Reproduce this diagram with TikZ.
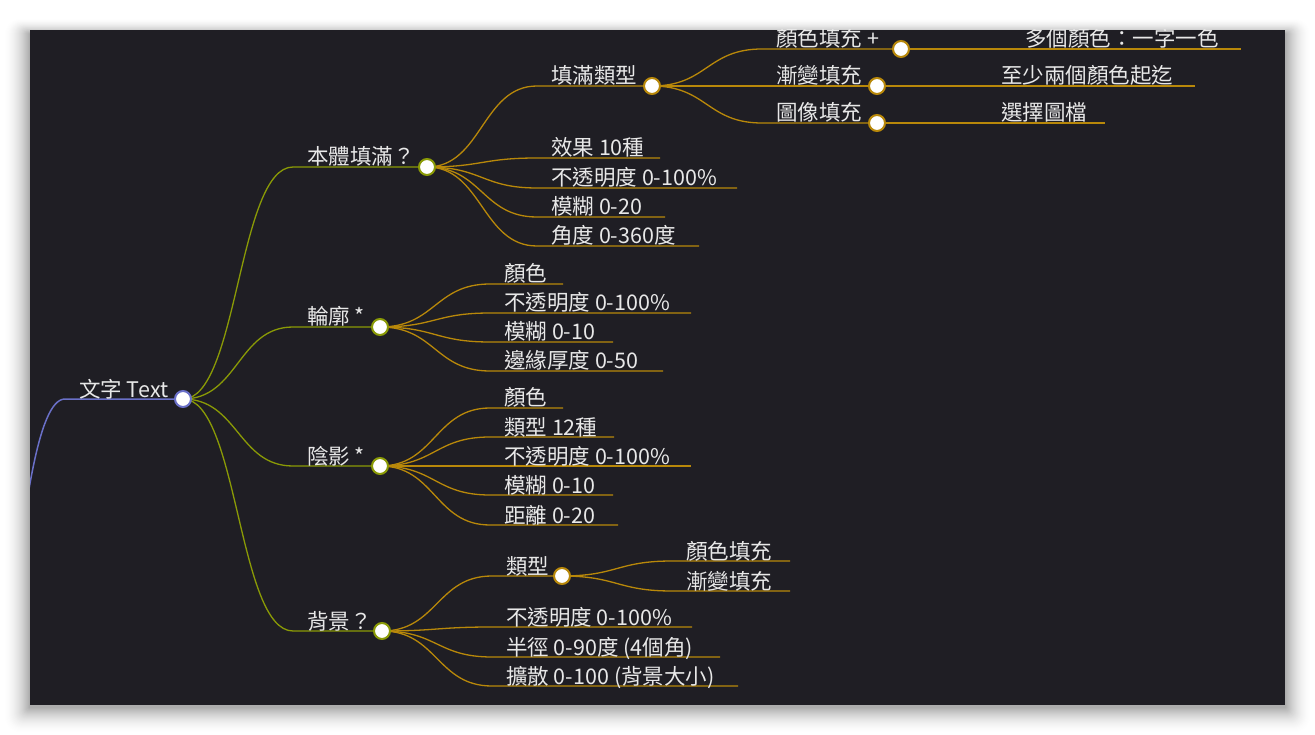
\documentclass[tikz,border=0pt]{standalone}
\usepackage{fontspec}
\setmainfont{Noto Sans CJK TC}
\usetikzlibrary{calc}
\definecolor{bgc}{HTML}{1F1E24}
\definecolor{olivec}{HTML}{8A9A06}
\definecolor{goldc}{HTML}{B8880A}
\definecolor{bluec}{HTML}{6A70C8}
\definecolor{txtc}{HTML}{E8E8E8}
\tikzset{
  mlink/.style={to path={.. controls ([xshift=55pt]\tikztostart) and ([xshift=-55pt]\tikztotarget) .. (\tikztotarget)}},
  bl/.style={draw=bluec,line width=1.5pt},
  ol/.style={draw=olivec,line width=1.3pt},
  gd/.style={draw=goldc,line width=1.3pt},
  lbl/.style={anchor=base west,inner sep=0pt,text=txtc,font=\fontsize{21.5}{26}\selectfont},
  hub/.style={circle,fill=white,line width=2pt,minimum size=16pt,inner sep=0pt},
}
\newcommand\mmnode[7]{%
  \coordinate (#2-s) at (#4,#5);
  \coordinate (#2) at (#6,#5);
  \draw[#1] (#3) to[mlink] (#2-s) -- (#2);
  \node[lbl] (#2-t) at ($(#2-s)+(14,-2)$) {#7};
}
\begin{document}
\begin{tikzpicture}[x=1pt,y=-1pt]
\useasboundingbox (0,0) rectangle (1315,735);
\fill[white] (0,0) rectangle (1315,735);
\foreach \i in {1,...,27}
  \fill[black,opacity={0.024*(1-\i/28)},rounded corners={0.6*\i pt}] ({30-\i},{34-0.6*\i}) rectangle ({1285+\i},{707+\i});
\fill[bgc] (30,30) rectangle (1285,705);
\begin{scope}
\clip (30,30) rectangle (1285,705);
\coordinate (src) at (-45,860);
\mmnode{bl}{R}{src}{65}{399}{183}{文字 Text}
% level 1
\mmnode{ol}{A}{R}{293}{167}{427}{本體填滿？}
\mmnode{ol}{B}{R}{293}{327}{380}{輪廓 *}
\mmnode{ol}{C}{R}{293}{466}{380}{陰影 *}
\mmnode{ol}{D}{R}{293}{631}{382}{背景？}
% A
\mmnode{gd}{A1}{A}{537}{86}{652}{填滿類型}
\mmnode{gd}{A2}{A}{537}{158}{660}{效果 10種}
\mmnode{gd}{A3}{A}{537}{188}{737}{不透明度 0-100\%}
\mmnode{gd}{A4}{A}{537}{217}{665}{模糊 0-20}
\mmnode{gd}{A5}{A}{537}{246}{699}{角度 0-360度}
\mmnode{gd}{A11}{A1}{762}{49}{901}{顏色填充 +}
\mmnode{gd}{A12}{A1}{762}{86}{877}{漸變填充}
\mmnode{gd}{A13}{A1}{762}{123}{877}{圖像填充}
\mmnode{gd}{A111}{A11}{1011}{49}{1241}{多個顏色：一字一色}
\mmnode{gd}{A121}{A12}{987}{86}{1195}{至少兩個顏色起迄}
\mmnode{gd}{A131}{A13}{987}{123}{1105}{選擇圖檔}
% B
\mmnode{gd}{B1}{B}{490}{284}{563}{顏色}
\mmnode{gd}{B2}{B}{490}{313}{691}{不透明度 0-100\%}
\mmnode{gd}{B3}{B}{490}{342}{613}{模糊 0-10}
\mmnode{gd}{B4}{B}{490}{371}{663}{邊緣厚度 0-50}
% C
\mmnode{gd}{C1}{C}{490}{408}{563}{顏色}
\mmnode{gd}{C2}{C}{490}{437}{614}{類型 12種}
\mmnode{gd}{C3}{C}{490}{466}{691}{不透明度 0-100\%}
\mmnode{gd}{C4}{C}{490}{495}{613}{模糊 0-10}
\mmnode{gd}{C5}{C}{490}{525}{618}{距離 0-20}
% D
\mmnode{gd}{D1}{D}{492}{576}{562}{類型}
\mmnode{gd}{D2}{D}{492}{627}{692}{不透明度 0-100\%}
\mmnode{gd}{D3}{D}{492}{657}{720}{半徑 0-90度 (4個角)}
\mmnode{gd}{D4}{D}{492}{686}{738}{擴散 0-100 (背景大小)}
\mmnode{gd}{D11}{D1}{672}{561}{790}{顏色填充}
\mmnode{gd}{D12}{D1}{672}{591}{790}{漸變填充}
% hubs
\node[hub,draw=bluec] (R-c) at (R) {};
\foreach \n in {A,B,C,D} \node[hub,draw=olivec] (\n-c) at (\n) {};
\foreach \n in {A1,A11,A12,A13,D1} \node[hub,draw=goldc] (\n-c) at (\n) {};
\end{scope}
\end{tikzpicture}
\end{document}
